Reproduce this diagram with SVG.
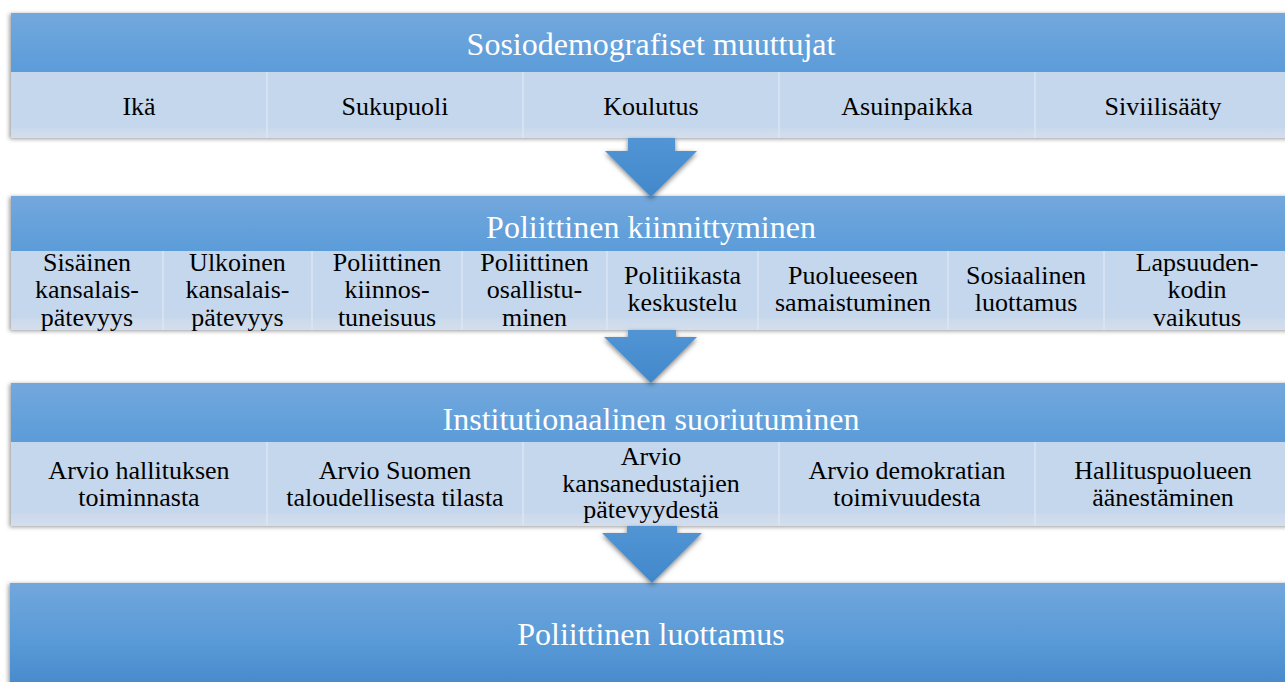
<svg xmlns="http://www.w3.org/2000/svg" width="1285" height="682" viewBox="0 0 1285 682">
<defs>
<linearGradient id="gDark" x1="0" y1="0" x2="0" y2="1">
<stop offset="0" stop-color="#73a8dd"/>
<stop offset="1" stop-color="#5b9cd9"/>
</linearGradient>
<linearGradient id="gLight" x1="0" y1="0" x2="0" y2="1">
<stop offset="0" stop-color="#c5d7ec"/>
<stop offset="0.84" stop-color="#c5d7ec"/>
<stop offset="0.86" stop-color="#cbd9eb"/>
<stop offset="1" stop-color="#d3dfee"/>
</linearGradient>
<linearGradient id="gBig" x1="0" y1="0" x2="0" y2="1">
<stop offset="0" stop-color="#72a7dc"/>
<stop offset="0.5" stop-color="#5a9bd8"/>
<stop offset="1" stop-color="#4587ca"/>
</linearGradient>
<linearGradient id="gArrow" x1="0" y1="0" x2="0" y2="1">
<stop offset="0" stop-color="#5295d4"/>
<stop offset="1" stop-color="#4188cb"/>
</linearGradient>
<filter id="sh" x="-5%" y="-20%" width="110%" height="140%">
<feDropShadow dx="-1.5" dy="1" stdDeviation="2" flood-color="#000" flood-opacity="0.4"/>
</filter>
<filter id="shA" x="-30%" y="-30%" width="160%" height="160%">
<feDropShadow dx="0" dy="2" stdDeviation="2.5" flood-color="#000" flood-opacity="0.5"/>
</filter>
</defs>
<style>
.title{font-family:"Liberation Serif","Times New Roman",serif;font-size:32px;fill:#ffffff;text-anchor:middle}
.item{font-family:"Liberation Serif","Times New Roman",serif;font-size:26px;fill:#000000;text-anchor:middle}
.div{stroke:#dbe6f3;stroke-width:1.5}
</style>
<rect width="1285" height="682" fill="#ffffff"/>

<g id="node-sosiodemografiset">
<g filter="url(#sh)">
<rect x="11" y="13" width="1280" height="59" fill="url(#gDark)"/>
<rect x="11" y="72" width="1280" height="66" fill="url(#gLight)"/>
</g>
<line class="div" x1="267" y1="72" x2="267" y2="138"/>
<line class="div" x1="523" y1="72" x2="523" y2="138"/>
<line class="div" x1="779" y1="72" x2="779" y2="138"/>
<line class="div" x1="1035" y1="72" x2="1035" y2="138"/>
<text class="title" x="651" y="55">Sosiodemografiset muuttujat</text>
<text class="item" x="139" y="115">Ikä</text>
<text class="item" x="395" y="115">Sukupuoli</text>
<text class="item" x="651" y="115">Koulutus</text>
<text class="item" x="907" y="115">Asuinpaikka</text>
<text class="item" x="1163" y="115">Siviilisääty</text>
</g>

<g id="node-kiinnittyminen">
<g filter="url(#sh)">
<rect x="11" y="196" width="1280" height="55" fill="url(#gDark)"/>
<rect x="11" y="251" width="1280" height="79" fill="url(#gLight)"/>
</g>
<line class="div" x1="163" y1="251" x2="163" y2="330"/>
<line class="div" x1="312" y1="251" x2="312" y2="330"/>
<line class="div" x1="462" y1="251" x2="462" y2="330"/>
<line class="div" x1="607" y1="251" x2="607" y2="330"/>
<line class="div" x1="758" y1="251" x2="758" y2="330"/>
<line class="div" x1="948" y1="251" x2="948" y2="330"/>
<line class="div" x1="1104" y1="251" x2="1104" y2="330"/>
<text class="title" x="651" y="238">Poliittinen kiinnittyminen</text>
<text class="item" x="87" y="270.5">Sisäinen</text>
<text class="item" x="87" y="298">kansalais-</text>
<text class="item" x="87" y="325.5">pätevyys</text>
<text class="item" x="237.5" y="270.5">Ulkoinen</text>
<text class="item" x="237.5" y="298">kansalais-</text>
<text class="item" x="237.5" y="325.5">pätevyys</text>
<text class="item" x="387" y="270.5">Poliittinen</text>
<text class="item" x="387" y="298">kiinnos-</text>
<text class="item" x="387" y="325.5">tuneisuus</text>
<text class="item" x="534.5" y="270.5">Poliittinen</text>
<text class="item" x="534.5" y="298">osallistu-</text>
<text class="item" x="534.5" y="325.5">minen</text>
<text class="item" x="682.5" y="283.5">Politiikasta</text>
<text class="item" x="682.5" y="310.5">keskustelu</text>
<text class="item" x="853" y="283.5">Puolueeseen</text>
<text class="item" x="853" y="310.5">samaistuminen</text>
<text class="item" x="1026" y="283.5">Sosiaalinen</text>
<text class="item" x="1026" y="310.5">luottamus</text>
<text class="item" x="1197" y="270.5">Lapsuuden-</text>
<text class="item" x="1197" y="298">kodin</text>
<text class="item" x="1197" y="325.5">vaikutus</text>
</g>

<g id="node-institutionaalinen">
<g filter="url(#sh)">
<rect x="11" y="383" width="1280" height="59" fill="url(#gDark)"/>
<rect x="11" y="442" width="1280" height="84" fill="url(#gLight)"/>
</g>
<line class="div" x1="267" y1="442" x2="267" y2="526"/>
<line class="div" x1="523" y1="442" x2="523" y2="526"/>
<line class="div" x1="779" y1="442" x2="779" y2="526"/>
<line class="div" x1="1035" y1="442" x2="1035" y2="526"/>
<text class="title" x="651" y="429.5">Institutionaalinen suoriutuminen</text>
<text class="item" x="139" y="479">Arvio hallituksen</text>
<text class="item" x="139" y="506">toiminnasta</text>
<text class="item" x="395" y="479">Arvio Suomen</text>
<text class="item" x="395" y="506">taloudellisesta tilasta</text>
<text class="item" x="651" y="465">Arvio</text>
<text class="item" x="651" y="491.5">kansanedustajien</text>
<text class="item" x="651" y="518">pätevyydestä</text>
<text class="item" x="907" y="479">Arvio demokratian</text>
<text class="item" x="907" y="506">toimivuudesta</text>
<text class="item" x="1163" y="479">Hallituspuolueen</text>
<text class="item" x="1163" y="506">äänestäminen</text>
</g>

<g id="node-luottamus">
<rect x="10" y="583" width="1281" height="110" fill="url(#gBig)" filter="url(#sh)"/>
<text class="title" x="651" y="645">Poliittinen luottamus</text>
</g>

<g id="connectors" fill="url(#gArrow)" filter="url(#shA)">
<polygon points="628,138 675,138 675,151 697,151 651,197 605,151 628,151"/>
<polygon points="628,330 676,330 676,337 697,337 651,383 604,337 628,337"/>
<polygon points="627,526 677,526 677,533 702,533 652,583 602,533 627,533"/>
</g>
</svg>
